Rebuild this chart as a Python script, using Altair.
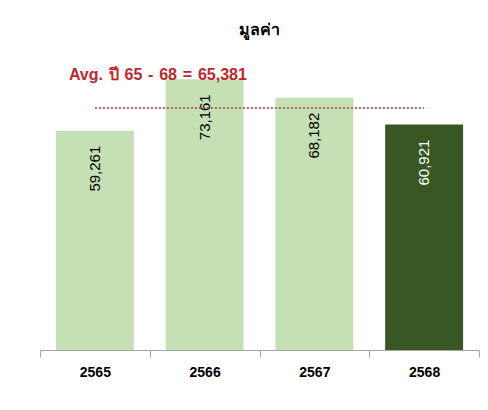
import altair as alt
import pandas as pd

years = ["2565", "2566", "2567", "2568"]
values = [59261, 73161, 68182, 60921]
highlight_year = "2568"
avg_value = 65381
_gap = "\u00a0\u200a"
avg_label = _gap.join(["Avg.", "ปี", "65", "-", "68", "=", "65,381"])
title_text = "มูลค่า"

df = pd.DataFrame({"year": years, "value": values})
df["label"] = df["value"].map(lambda v: f"{v:,}")
avg_df = pd.DataFrame({"start": [years[0]], "end": [years[-1]], "avg": [avg_value], "text": [avg_label]})

x_scale = alt.Scale(domain=years, paddingInner=0, paddingOuter=0)
y_scale = alt.Scale(domain=[0, 80000])

x_enc = alt.X("year:N", scale=x_scale, sort=years,
              axis=alt.Axis(title=None, labelAngle=0, tickBand="extent", tickSize=7,
                            domainColor="#a6a6a6", tickColor="#a6a6a6",
                            labelFont="Liberation Sans", labelFontSize=14, labelFontWeight="bold",
                            labelColor="#000000", labelPadding=8))
y_enc = alt.Y("value:Q", scale=y_scale, axis=None)

bars = alt.Chart(df).mark_bar(width=alt.RelativeBandSize(0.71)).encode(
    x=x_enc, y=y_enc,
    color=alt.condition(alt.datum.year == highlight_year, alt.value("#385723"), alt.value("#c5e0b4")),
)

labels = alt.Chart(df).mark_text(angle=270, align="right", baseline="middle", dx=-15,
                                 font="Liberation Sans", fontSize=15).encode(
    x=alt.X("year:N", scale=x_scale, sort=years),
    y=alt.Y("value:Q", scale=y_scale),
    text="label:N",
    color=alt.condition(alt.datum.year == highlight_year, alt.value("#ffffff"), alt.value("#000000")),
)

rule = alt.Chart(avg_df).mark_rule(color="#b03a36", strokeDash=[2, 2], strokeWidth=1.5).encode(
    x=alt.X("start:N", scale=x_scale, sort=years),
    x2="end:N",
    y=alt.Y("avg:Q", scale=y_scale),
)

avg_text = alt.Chart(avg_df).mark_text(align="left", baseline="middle", dx=-26, dy=-33,
                                       font="Liberation Sans", fontSize=16, fontWeight="bold",
                                       color="#c0272d").encode(
    x=alt.X("start:N", scale=x_scale, sort=years),
    y=alt.Y("avg:Q", scale=y_scale),
    text="text:N",
)

chart = alt.layer(bars, labels, rule, avg_text).properties(
    width=439, height=296,
    title=alt.TitleParams(title_text, fontSize=16, fontWeight="bold", color="#000000",
                          font="Liberation Sans", anchor="middle", offset=16),
    padding={"left": 31, "top": 14, "right": 0, "bottom": 0},
).configure(background="#ffffff", view=alt.ViewConfig(stroke=None))

chart.save("out.html", embed_options={"renderer": "svg", "actions": False})
